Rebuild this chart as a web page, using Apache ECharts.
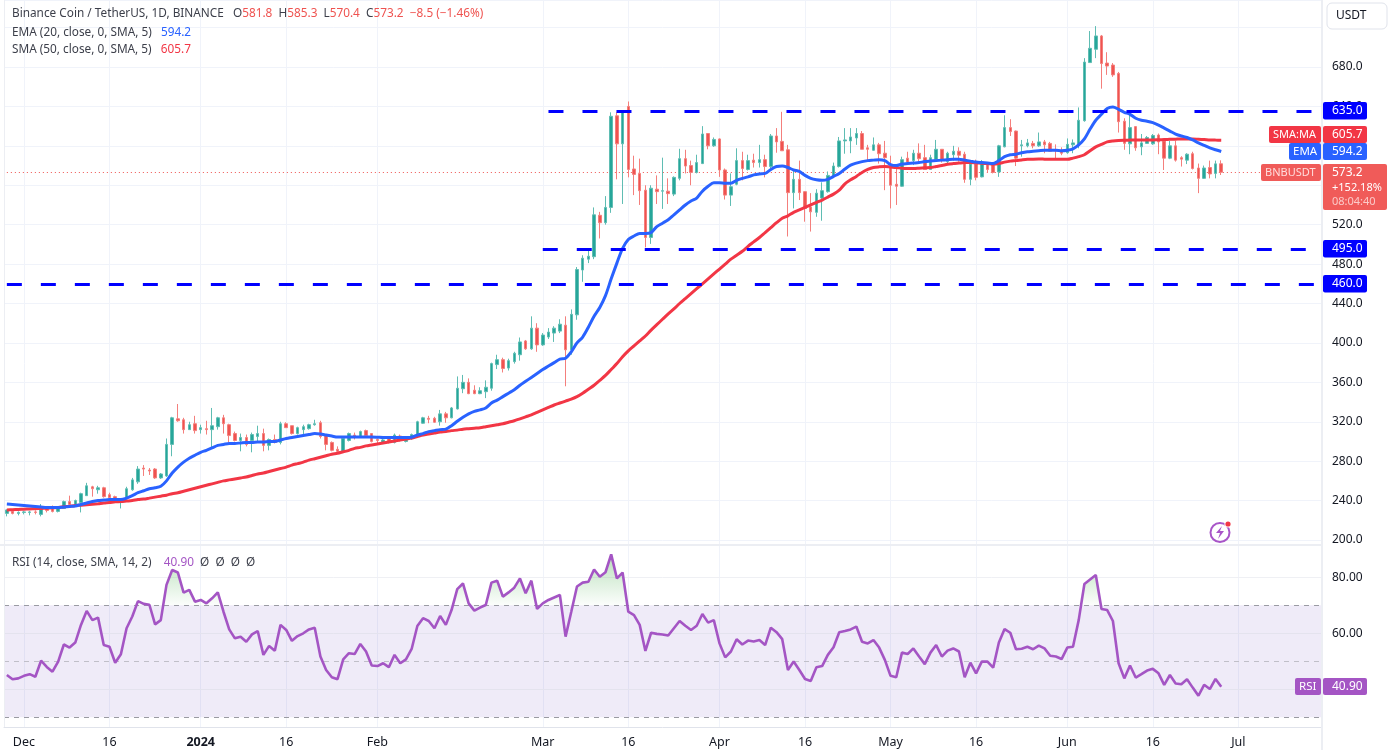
<!DOCTYPE html>
<html><head><meta charset="utf-8">
<style>html,body{margin:0;padding:0;background:#fff}#c{width:1390px;height:750px}</style>
<script src="https://cdn.jsdelivr.net/npm/echarts@6/dist/echarts.min.js"></script>
</head><body><div id="c"></div>
<script>
// Daily candles from 2023-11-28, each row: open, close, low, high
const candles = [
[227,230.5,224,231],[229,227,226,230],[227,228,225,229],[228,228.5,226,229.5],[228,228.5,225,229.5],[228.5,228,226,230],[226,234,224,236.5],[234,230,228,234.5],[234,229,228,235],[229,233,228,234],
[232,239,232,240],[239,236,235,245],[236,240,235,241],[238,247,228,248],[245,255,245,258],[254,252,244,255],[251,253,247,255],[253,244,243,254],[246,243,243,248],[244,239,238,245],
[238,241,232,242],[242,252,241,254],[251,261,250,263],[259,272,257,275],[273,272,265,276],[271,270,266,273],[272,263,262,273],[263,267,262,268],[265,297,264,303],[297,324,285,325],
[323,321,320,338],[322,312,308,324],[312,317,312,320],[318,311,308,326],[312,314,308,317],[313,312,307,321],[312,316,294,334],[315,324,312,325],[324,318,308,327],[317,306,299,318],
[308,301,300,310],[301,304,290,308],[304,297,295,307],[301,307,289,309],[305,308,300,316],[308,296,290,313],[296,302,291,303],[302,299,298,307],[299,318,297,320],[318,314,314,319.5],
[316,308,307,316],[308,314,307,315],[312,315,307,317],[313,317,312,318],[317,318,316,322],[319,305,303,321],[306,297,291,307],[299,291,290,300],[292,290,288,295],[290,303,289,304],
[301,308,300,309],[306.5,304,302,309],[305,310,304,311],[311,306,305,312],[308,300,299,308],[302,301,297,303],[299,301.5,298,303],[303,299,298,304],[299,306.5,298,308],[305.5,301.5,300,307],
[300,303,299,304],[302.5,307,301.5,308],[306.5,320,305,321],[318.5,324,318,325],[323.5,322.5,318.5,326],[323.5,319.5,319,325],[320,328,316,332],[328,324,319,330],[324,334,323.5,335],[333,354,332.5,366],
[353.5,360,349,367.5],[360,348.5,348,364],[352,348.5,348,357],[348.5,351.5,348,355],[350.5,355,344,362],[354,379,351.5,380],[378,383,373.5,388],[383,374,370,385],[374.5,382,372,384],[381,389.5,379,391],
[388,401,382,405.5],[402,394,393,403],[394,415,393,427],[415,398,391,420],[398,408,397,410],[406,411,404,415],[410,415,401,417],[412,419,410,424],[418,393,356,427],[393,429,388,434],
[428.5,474.5,423.5,477],[474,486,462,489],[485,488,481,493.5],[487.5,530,485,537.5],[529.5,522,506,533],[522,537.5,520,549],[537.5,630,532,634],[630.5,602,566,634],[602,634.5,541,634.5],[640,576,568,645],
[576.5,571,550,590],[572,554.5,540,587],[555,507,497,560],[507,557,500.5,560],[556,553.5,541,570],[554,554.5,536,588],[554,551.5,541,567],[551,568,549,569],[567,587,565,597],[587,579.5,572,596],
[580,573,560,585],[573,583,572,591],[582,612,581.5,620],[612.5,600,596.5,613],[600,606.5,599,608.5],[607,575.5,568.5,607.5],[575.5,550,545.5,577],[550,558.5,539,572],[561,585,560,597.5],[585,577,565,594],
[576,585,575,591],[585.5,583,578,592],[583,586,578,601],[586,579,568,591],[579,610,577,612],[610,604,593,618],[604.5,595,595,634.5],[596,552.5,508,601],[552.5,566,536.5,576],[566,552.5,545,585],
[553.5,536.5,523,554],[538,533,513,552],[532.5,552,528,556],[547,554.5,524,563],[553.5,570,552.5,574],[569,579.5,568,583],[579,605,578,609],[605,606,592,618],[605,609,592.5,618],[608,612.5,601,618],
[612.5,596.5,596.5,615],[598,596.5,585,601],[595.5,601,595,608.5],[601,592,582,603],[592.5,588,555,605],[578,560,536.5,590],[561,559,540,578],[559,586,558.5,589],[587.5,583.5,580.5,594],[585,592.5,580.5,596],
[592.5,587,584,602.5],[588,576,575.5,601],[576,588,575.5,591],[586,596.5,585.5,606],[596.5,585,583,596.5],[584,592.5,581.5,594],[591,594.5,585,600],[594.5,590.5,584,598.5],[591.5,566,562.5,594],[566,581.5,560,585.5],
[581.5,568,565,586],[568.5,583,568,585.5],[581,576,573,582],[581.5,573,572,582],[573.5,600,568.5,601],[599,618.5,598.5,631],[618.5,614.5,610,627],[615,587.5,579.5,615.5],[600,601,589,606],[600,603,598.5,607],
[602.5,600,597.5,605],[600,604,599,613.5],[604,601,592.5,606],[602.5,594.5,594,604],[596,595,587,601.5],[595.5,592.5,590.5,598.5],[593,601.5,592,607.5],[601,603,592.5,606.5],[600.5,626,597.5,639],[625.5,685,624.5,689],
[684.5,699,684.5,716.5],[698,711.5,689,721.5],[711.5,683.5,658,712.5],[684,681,672,695],[682,672,670,684],[673.5,624.5,613.5,675],[625,602.5,596,628],[602,618.5,591.5,634.5],[619.5,598,595,620],[599,603,590.5,612],
[602.5,608.5,602,610],[602,610.5,601,612],[611,604,591.5,612.5],[605,587.5,575.5,605],[587.5,600,586.5,605],[600,585.5,584,605],[588,586.5,579,589.5],[585.5,591.5,581.5,592.5],[592,577,576,594],[577.5,567,552,582],
[567,577.5,566.5,580],[578,571.5,567,585],[572,581.7,567,585],[581.8,573.2,570.4,585.3]];
const ema20 = [
236.5,236,235.5,235,234.5,234,233.5,233,233,233,233.5,234,234.5,236,237.5,239,240,240.5,241,241,
241,242.5,245,248,250,252,253,254.5,260,268,274,279,283,286,289,291,293.5,296,297,298,
298,298.5,299,299,299.5,299.5,300,300,301.5,303,304,305,306,307,308,307.5,306.5,305.5,304.5,304.5,
304.5,304.5,304.5,304.5,304.5,304.3,304,304,304,304,304,304.3,306.5,308,310,311,312,312.5,316,320.5,
324.5,328,330.5,332,334,339,342,345.5,349,352.5,357,361,365,369,373,376.5,380,383.5,384.5,391,
400,406,416,427,436,448,465,481,496,505,508.5,511,511,512,518,521.5,525,530,535,540,
544,547,554,559,562.5,562.5,562,562,565,567,568.5,570.5,571.5,572,576,579,579.5,578,575.5,574,
570,567,565.5,565,566,569,572,576.5,580.5,582.5,584,585,585.5,586,585,581,580,581.5,582,582.5,
583,584,584.5,585,585.5,586,586.5,586.5,585.5,584.5,583.5,583,582.5,582,585,589,591,591.5,593,594,
594.5,595,595.5,595.5,595.5,595,595.5,597,601,607,617,626,632,638,639.5,637,634,632,628,626,
625,623.5,621,618,615,612,610,608.5,606,603,600.5,598,596,594.2];
const sma50 = [
230.5,230.7,231,231.2,231.5,231.7,232,232.3,232.7,233,233.7,234.3,235,235.3,235.7,236.2,236.8,237.5,238,238.7,
239,239.5,240,241,241.5,242.5,243.5,244.5,245.5,247,248,249.5,251,252.5,254,255.5,257,258.5,260,261,
262,263,264,265.5,267,268,269.5,271,272.5,274,276,277.5,279,281,282.5,284,285.5,287,288,289.5,
291,293,294,295.5,296.5,297.5,298.5,299.5,300.5,301.5,302.5,303.5,305,306.5,307.5,308.5,309.5,310,311,311.5,
312.5,313,313.5,314,315,316,317,318,319.5,321,323,325,327,329.5,332,334.5,337,339,341,343,
345.5,349,353,357,362,367,373,379,386,392,397,402,407,413,418.5,424,429.5,434.5,440,445,
450,455,460,465,470,475,480,485,489,493,498,502.5,507,512,517,522,526.5,529,532.5,535,
537.5,540,542.5,545,548,551,555,561.5,565.5,569,573,576,578,578.7,579,578.5,578,577.2,577,577,
577.3,577.7,578,579,580,581.3,582,582.5,583,583,582.7,582.3,582,581.5,582,583.5,584.5,585,585.7,586.3,
586.5,586.6,586.5,586.4,586.3,586.3,586.3,587.5,589,591,595,599,601.5,604,605,605.5,605.7,605.8,605.9,605.9,
606,606,606.2,606.4,606.6,606.8,607,607,607,606.7,606.4,606,605.8,605.7];
const rsi14 = [
45.1,43.6,43.9,44.8,45.4,44.5,50.2,48,46.3,49.9,56,54.9,56.7,63,68,64.7,65.6,55.8,55.2,49.5,
52.5,61.8,66,71.5,70.5,70.2,63.2,64.7,77.3,82.6,81.7,74.5,75.5,71.3,71.9,70.7,72.5,74.6,67.7,61.4,
58.2,58.8,57,59.6,60.8,52.3,55.5,53.8,63,61.2,57.3,59,60,61.4,62,51.7,46.9,44.3,43.6,50.7,
52.9,52.6,56.2,53.5,48.5,48.3,49.3,47.9,52.3,49.3,50.7,54.4,62.6,65.4,64.4,61.8,66.2,63,68.3,75.8,
77.8,70.7,68.1,69.2,70.1,78.1,78.8,73.1,74.6,76.3,79.6,74.3,78.8,68.7,70.7,71.9,72.8,73.7,58.8,67.7,
76.7,78.1,78.4,82.8,80.2,81.8,88.2,79.6,81.7,67.7,66.5,63,53.7,60.2,59.8,59.6,59.2,61.8,64.4,62.7,
61.2,62.7,66.9,63.8,64.7,56.4,51.4,53.5,57.9,56,57.4,57.1,57.6,55.8,62,60.4,57.9,46.9,49.9,46.9,
43.7,43,47.9,48.3,52.3,55,60.4,60.8,61.4,62.4,57,56.4,57.6,54.9,50.5,44.8,44.3,53.1,52.6,54.6,
51.7,49,53.1,55.8,51.7,53.8,54.6,53.5,44.3,49.5,45.7,49.9,49.9,47.7,56.7,61.5,60.2,54.3,54.5,55.2,
54.3,55.6,54.6,52,51.7,50.8,54.9,55.2,64.7,77.6,79.2,80.8,68.7,68.3,64.4,49.3,43.9,48.5,44.2,45.4,
46.7,47.3,45.7,41.6,45.1,42.1,41.8,43.6,40.6,37.7,41.6,40.1,43.7,40.9];
const tickLabels = {'2023-12-01':'Dec','2023-12-16':'16','2024-01-01':'{b|2024}','2024-01-16':'16','2024-02-01':'Feb','2024-03-01':'Mar','2024-03-16':'16','2024-04-01':'Apr','2024-04-16':'16','2024-05-01':'May','2024-05-16':'16','2024-06-01':'Jun','2024-06-16':'16','2024-07-01':'Jul'};
const levels = [{v:635,from:'2024-03-02'},{v:495,from:'2024-03-01'},{v:460,from:'2023-11-28'}];
const lastPrice = 573.2;
const rsiLast = 40.9;

// calendar slots: the candles plus the empty space to the right
const categories = [];
for (let i = 0; i < 231; i++) categories.push(new Date(Date.UTC(2023, 10, 28 + i)).toISOString().slice(0, 10));

const FONT = '"Noto Sans", sans-serif';
const TXT = '#131722', GRID = '#f0f3fa', BORDER = '#e0e3eb', LEG = '#3c3f4a';
const UP = '#26a69a', DOWN = '#ef5350', BLUE = '#2962ff', RED = '#f23645', PURPLE = '#a455c4', LEVEL = '#0000ff';
const L = 4, W = 1317;
const isTick = (i, v) => v in tickLabels;
const hiddenX = gi => ({type:'category', gridIndex:gi, data:categories, boundaryGap:true, axisLine:{show:false}, axisTick:{show:false}, axisLabel:{show:false}, splitLine:{show:false}});
const legend = (top, color, text) => ({left:7, top, textStyle:{fontFamily:FONT, fontSize:11.8, fontWeight:'normal',
  rich:{t:{fontFamily:FONT,fontSize:11.8,color:LEG},r:{fontFamily:FONT,fontSize:11.8,color}}}, text});

const option = {
  animation:false, backgroundColor:'#fff',
  textStyle:{fontFamily:FONT},
  title:[
    legend(3, DOWN, '{t|Binance Coin / TetherUS, 1D, BINANCE}   {t|O}{r|581.8}  {t|H}{r|585.3}  {t|L}{r|570.4}  {t|C}{r|573.2}  {r|\u22128.5 (\u22121.46%)}'),
    legend(22, BLUE, '{t|EMA (20, close, 0, SMA, 5)}   {r|594.2}'),
    legend(39, RED, '{t|SMA (50, close, 0, SMA, 5)}   {r|605.7}'),
    legend(552, PURPLE, '{t|RSI (14, close, SMA, 14, 2)}    {r|40.90}  {t|\u00d8}  {t|\u00d8}  {t|\u00d8}  {t|\u00d8}')
  ],
  grid:[
    {left:L, width:W, top:0, height:540},
    {left:L, width:W, top:549.3, height:168},
    {left:L, width:W, top:0, height:727}
  ],
  xAxis:[
    hiddenX(0), hiddenX(1),
    {type:'category', gridIndex:2, data:categories, boundaryGap:true,
     axisLine:{show:true, lineStyle:{color:BORDER, width:1}}, axisTick:{show:false},
     axisLabel:{show:true, interval:isTick, formatter:v => tickLabels[v] || '', color:TXT, fontFamily:FONT, fontSize:12.5, margin:9,
       rich:{b:{fontWeight:'bold', fontFamily:FONT, fontSize:12.5, color:TXT}}},
     splitLine:{show:true, interval:isTick, alignWithLabel:true, lineStyle:{color:GRID, width:1}}}
  ],
  yAxis:[
    {type:'value', gridIndex:0, position:'right', min:200, max:748, interval:40, axisLine:{show:false}, axisTick:{show:false},
     axisLabel:{color:TXT, fontFamily:FONT, fontSize:12, margin:11, padding:[4,0,0,0], formatter:v => (v % 40 === 0 && v < 700) ? v.toFixed(1) : ''},
     splitLine:{show:true, lineStyle:{color:GRID, width:1}}},
    {type:'value', gridIndex:1, position:'right', min:30, max:90, interval:10, axisLine:{show:false}, axisTick:{show:false},
     axisLabel:{color:TXT, fontFamily:FONT, fontSize:12, margin:11, padding:[2,0,0,0], formatter:v => (v === 60 || v === 80) ? v.toFixed(2) : ''},
     splitLine:{show:false}},
    {type:'value', gridIndex:2, position:'left', min:0, max:1, show:false}
  ],
  series:[
    {name:'BNBUSDT', type:'candlestick', xAxisIndex:0, yAxisIndex:0, data:candles, barWidth:3, z:3,
     itemStyle:{color:UP, color0:DOWN, borderColor:'#5fbdb3', borderColor0:'#f47f7c', borderWidth:1},
     markLine:{silent:true, symbol:'none', z:2, animation:false,
       lineStyle:{color:DOWN, type:[1,3], width:1}, label:{show:false},
       data:[[{coord:[categories[0], lastPrice]},{coord:[categories[categories.length-1], lastPrice]}]]}},
    {name:'Levels', type:'line', xAxisIndex:0, yAxisIndex:0, data:[], z:6,
     markLine:{silent:true, symbol:'none', z:6, animation:false,
       lineStyle:{color:LEVEL, type:[15,19], width:3}, label:{show:false},
       data:levels.map(l => [{coord:[l.from, l.v]},{coord:[categories[categories.length-1], l.v]}])}},
    {name:'SMA', type:'line', xAxisIndex:0, yAxisIndex:0, data:sma50, showSymbol:false, symbol:'none', smooth:0.3, z:4, lineStyle:{color:RED, width:3}},
    {name:'EMA', type:'line', xAxisIndex:0, yAxisIndex:0, data:ema20, showSymbol:false, symbol:'none', smooth:0.3, z:5, lineStyle:{color:BLUE, width:3}},
    {name:'Overbought', type:'line', xAxisIndex:1, yAxisIndex:1, data:rsi14.map(v => Math.max(v, 70)), symbol:'none', z:2, lineStyle:{width:0},
     areaStyle:{origin:70, opacity:1, color:new echarts.graphic.LinearGradient(0, 556, 0, 605, [{offset:0,color:'rgba(76,175,80,0.38)'},{offset:1,color:'rgba(76,175,80,0.02)'}], true)}},
    {name:'RSI', type:'line', xAxisIndex:1, yAxisIndex:1, data:rsi14, symbol:'none', z:4, lineStyle:{color:PURPLE, width:2.6},
     markArea:{silent:true, z:1, itemStyle:{color:'rgba(126,87,194,0.12)'}, data:[[{yAxis:70},{yAxis:30}]]},
     markLine:{silent:true, symbol:'none', z:1, animation:false, label:{show:false},
       data:[
         {yAxis:80, lineStyle:{color:'#eff0f4', type:'solid', width:1}},
         {yAxis:60, lineStyle:{color:'#e4e3ee', type:'solid', width:1}},
         {yAxis:40, lineStyle:{color:'#e4e3ee', type:'solid', width:1}},
         {yAxis:70, lineStyle:{color:'#9a9ba3', type:[5,5], width:1}},
         {yAxis:50, lineStyle:{color:'#c0bfc8', type:[5,5], width:1}},
         {yAxis:30, lineStyle:{color:'#9a9ba3', type:[5,5], width:1}}
       ]}}
  ]
};
const chart = echarts.init(document.getElementById('c'), null, {renderer:'canvas'});
chart.setOption(option);

// price-scale tags sit on the axes, so they are placed from the library's own scale
const yMain = v => Math.round(chart.convertToPixel({yAxisIndex:0}, v));
const yRsi = v => Math.round(chart.convertToPixel({yAxisIndex:1}, v));
const tag = (x, y, w, h, fill, lines) => [
  {type:'rect', z:50, shape:{x, y, width:w, height:h, r:2}, style:{fill}},
  ...lines.map((ln, i) => ({type:'text', z:51, style:{x:x + (ln.left ? 4 : 9), y:y + 9 + i * 14.5, text:ln.t, fill:ln.c || '#fff', fontFamily:FONT, fontSize:ln.s || 12, align:'left', verticalAlign:'middle'}}))
];
const yE = yMain(594.2), yP = yMain(lastPrice);
const gfx = [
  {type:'rect', z:40, shape:{x:1321, y:0, width:2, height:750}, style:{fill:'#eceef3'}},
  {type:'rect', z:40, shape:{x:0, y:544, width:1321, height:2}, style:{fill:'#eceef3'}},
  {type:'rect', z:40, shape:{x:L, y:0, width:1, height:727}, style:{fill:'#eceef3'}},
  {type:'rect', z:50, shape:{x:1327, y:3, width:60, height:26, r:5}, style:{fill:'#fff', stroke:BORDER, lineWidth:1}},
  {type:'text', z:51, style:{x:1336, y:16, text:'USDT', fill:TXT, fontFamily:FONT, fontSize:12, verticalAlign:'middle'}},
  {type:'circle', z:45, shape:{cx:1220, cy:532.5, r:9.5}, style:{fill:'none', stroke:'#a855c8', lineWidth:2}},
  {type:'polygon', z:46, shape:{points:[[1222,526],[1216,533],[1220,533],[1218,539],[1224,531],[1220,531]]}, style:{fill:'#a855c8'}},
  {type:'circle', z:47, shape:{cx:1228,cy:524,r:3.6}, style:{fill:'#fff'}},
  {type:'circle', z:48, shape:{cx:1228,cy:524,r:2.6}, style:{fill:'#f23645'}},
  ...levels.flatMap(l => tag(1323, yMain(l.v) - 9, 44, 17.5, LEVEL, [{t:l.v.toFixed(1)}])),
  ...tag(1269, yE - 26, 52, 17, RED, [{t:'SMA:MA', left:true, s:11}]),
  ...tag(1323, yE - 26, 44, 17, RED, [{t:'605.7'}]),
  ...tag(1289, yE - 9, 32, 17, BLUE, [{t:'EMA', left:true, s:11.5}]),
  ...tag(1323, yE - 9, 44, 17, BLUE, [{t:'594.2'}]),
  ...tag(1261, yP - 8, 60, 17, '#f05b59', [{t:'BNBUSDT', left:true, c:'#ffdcdb', s:11}]),
  ...tag(1323, yP - 8, 64, 46, '#f05b59', [{t:lastPrice.toFixed(1)},{t:'+152.18%', s:11},{t:'08:04:40', c:'#fbc9c8', s:11}]),
  ...tag(1295, yRsi(rsiLast) - 9, 26, 17, PURPLE, [{t:'RSI', left:true, s:11.5}]),
  ...tag(1323, yRsi(rsiLast) - 9, 44, 17, PURPLE, [{t:'40.90'}])
];
chart.setOption({graphic:{elements:gfx}});
</script></body></html>
